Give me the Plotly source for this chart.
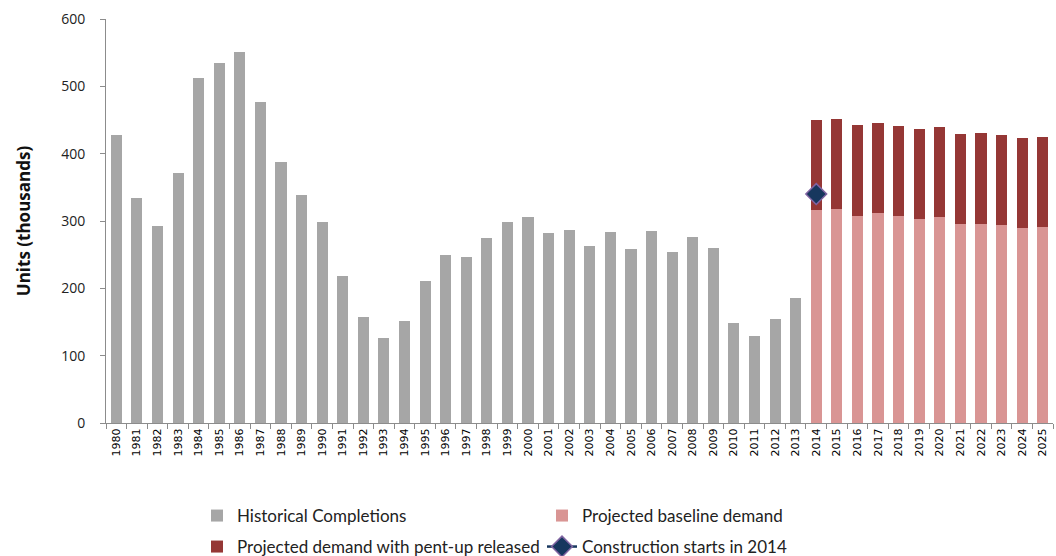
import plotly.graph_objects as go

# Years on the category axis
hist_years = [str(y) for y in range(1980, 2014)]
proj_years = [str(y) for y in range(2014, 2026)]
all_years = hist_years + proj_years

# Historical completions (thousands of units)
historical = [428, 334, 293, 372, 512, 535, 551, 476, 388, 339,
              299, 218, 157, 126, 151, 211, 249, 247, 275, 298,
              306, 282, 287, 263, 284, 258, 285, 254, 276, 260,
              148, 129, 154, 185]

# Projected baseline demand and total demand with pent-up released
baseline = [316, 318, 308, 312, 307, 303, 306, 295, 296, 294, 290, 291]
total_with_pentup = [450, 451, 443, 446, 441, 436, 440, 429, 430, 427, 423, 425]
pentup = [t - b for t, b in zip(total_with_pentup, baseline)]

# Construction starts in 2014
starts_year = ["2014"]
starts_value = [340]

fig = go.Figure()

fig.add_trace(go.Bar(
    x=hist_years, y=historical, name="Historical Completions",
    marker=dict(color="#A6A6A6", line=dict(width=0)), legend="legend",
))
fig.add_trace(go.Bar(
    x=proj_years, y=baseline, name="Projected baseline demand",
    marker=dict(color="#D99594", line=dict(width=0)), legend="legend",
))
fig.add_trace(go.Bar(
    x=proj_years, y=pentup, name="Projected demand with pent-up released",
    marker=dict(color="#953735", line=dict(width=0)), legend="legend2",
))
fig.add_trace(go.Scatter(
    x=starts_year, y=starts_value, name="Construction starts in 2014",
    mode="lines+markers",
    line=dict(color="#17375E", width=2.5),
    marker=dict(symbol="diamond", size=16, color="#17375E",
                line=dict(color="#8064A2", width=1.5)),
    legend="legend2",
))

legend_common = dict(
    orientation="h", xref="container", yref="container",
    xanchor="left", yanchor="middle", traceorder="normal",
    font=dict(family="Lato, Open Sans, sans-serif", size=17, color="#222222"),
    entrywidthmode="pixels", entrywidth=300,
    itemwidth=30, tracegroupgap=0, bgcolor="rgba(0,0,0,0)",
)

fig.update_layout(
    width=1056, height=556,
    margin=dict(l=106, r=3, t=19, b=133),
    paper_bgcolor="white", plot_bgcolor="white",
    barmode="stack", bargap=0.46,
    showlegend=True,
    legend=dict(x=197 / 1056, y=(556 - 516) / 556, **legend_common),
    legend2=dict(x=197 / 1056, y=(556 - 547) / 556, **legend_common),
    xaxis=dict(
        type="category", categoryorder="array", categoryarray=all_years,
        tickangle=-90, tickson="boundaries", ticks="outside", ticklen=5,
        tickcolor="#8C8C8C", showline=True, linecolor="#8C8C8C", linewidth=1,
        tickfont=dict(family="DejaVu Sans", size=11, color="#000000"),
        showgrid=False, zeroline=False,
    ),
    yaxis=dict(
        range=[0, 600], tickvals=[0, 100, 200, 300, 400, 500, 600],
        ticks="outside", ticklen=5, tickcolor="#8C8C8C",
        showline=True, linecolor="#8C8C8C", linewidth=1,
        tickfont=dict(family="Open Sans, Liberation Sans, sans-serif", size=14, color="#222222"),
        ticklabelstandoff=12,
        title=dict(text="<b>Units (thousands)</b>", standoff=26,
                   font=dict(family="Open Sans, Liberation Sans, sans-serif", size=17, color="#111111")),
        showgrid=False, zeroline=False,
    ),
)

fig.write_html("out.html")
